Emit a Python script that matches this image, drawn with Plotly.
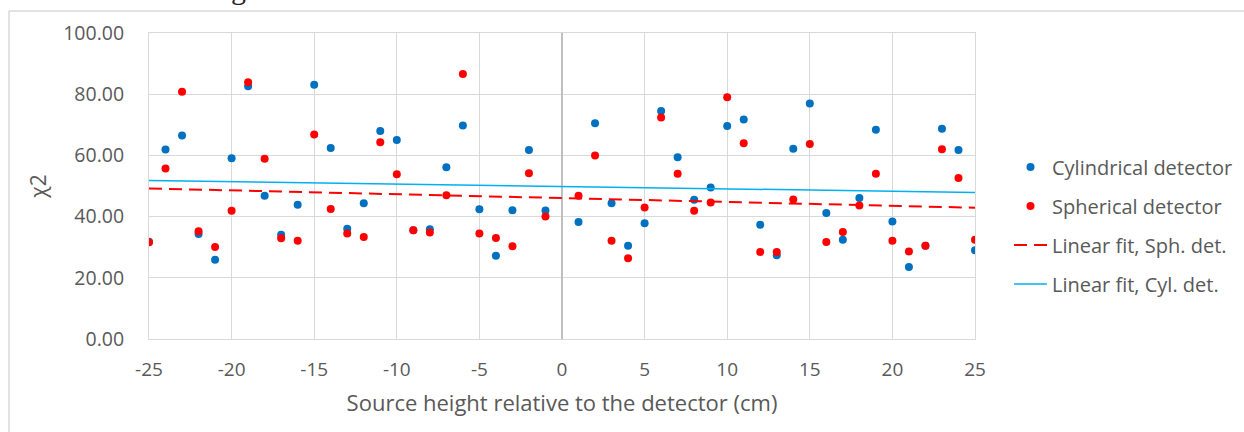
import plotly.graph_objects as go

heights = list(range(-25, 26))

cylindrical = [31.8, 61.9, 66.5, 34.3, 25.9, 59.1, 82.6, 46.8, 34.1, 43.9,
               83.1, 62.4, 36.0, 44.4, 68.0, 65.0, 35.5, 35.9, 56.1, 69.8,
               42.4, 27.2, 42.1, 61.8, 42.0, 0, 38.2, 70.5, 44.4, 30.5,
               37.8, 74.5, 59.4, 45.5, 49.5, 69.6, 71.7, 37.3, 27.4, 62.2,
               77.0, 41.2, 32.4, 46.1, 68.4, 38.4, 23.5, 30.5, 68.7, 61.8, 29.0]

spherical = [31.6, 55.7, 80.8, 35.2, 30.1, 41.9, 83.9, 58.9, 32.9, 32.1,
             66.8, 42.5, 34.5, 33.3, 64.3, 53.8, 35.5, 34.8, 47.0, 86.6,
             34.5, 33.0, 30.3, 54.2, 40.0, 0, 46.8, 60.0, 32.1, 26.4,
             43.0, 72.4, 54.0, 41.9, 44.6, 79.0, 64.0, 28.4, 28.4, 45.6,
             63.7, 31.7, 35.0, 43.6, 54.0, 32.1, 28.6, 30.5, 62.0, 52.6, 32.4]

# the reference has no point at height 0
pts_x = [h for h in heights if h != 0]
cyl_y = [v for h, v in zip(heights, cylindrical) if h != 0]
sph_y = [v for h, v in zip(heights, spherical) if h != 0]

fit_x = [-25, 25]
fit_sph = [49.2, 42.9]
fit_cyl = [51.8, 47.9]

y_ticks = [0, 20, 40, 60, 80, 100]
y_tick_labels = ["0.00", "20.00", "40.00", "60.00", "80.00", "100.00"]
x_ticks = [-25, -20, -15, -10, -5, 0, 5, 10, 15, 20, 25]
x_tick_labels = ["-25", "-20", "-15", "-10", "-5", "0", "5", "10", "15", "20", "25"]

FONT = "Open Sans"
GREY = "#595959"

fig = go.Figure()
fig.add_trace(go.Scatter(x=pts_x, y=cyl_y, mode="markers", name="Cylindrical detector",
                         marker=dict(color="#0070c0", size=8), legendgroup="a"))
fig.add_trace(go.Scatter(x=pts_x, y=sph_y, mode="markers", name="Spherical detector",
                         marker=dict(color="#ff0000", size=8), legendgroup="b"))
fig.add_trace(go.Scatter(x=fit_x, y=fit_sph, mode="lines", name="Linear fit, Sph. det.",
                         line=dict(color="#ff0000", width=2, dash="13px,7px"), legendgroup="c"))
fig.add_trace(go.Scatter(x=fit_x, y=fit_cyl, mode="lines", name="Linear fit, Cyl. det.",
                         line=dict(color="#00b0f0", width=1.5), legendgroup="d"))

border_left = (9 - 149) / 826
border_top = (339 - 11) / 306

fig.update_layout(
    width=1244, height=432,
    margin=dict(l=149, r=269, t=33, b=93, autoexpand=False),
    paper_bgcolor="white", plot_bgcolor="white",
    font=dict(family=FONT, color=GREY, size=19),
    showlegend=True,
    legend=dict(x=(1009 - 149) / 826, y=(339 - 225.5) / 306, xanchor="left", yanchor="middle",
                font=dict(family=FONT, size=20, color=GREY),
                traceorder="grouped", tracegroupgap=10, itemwidth=33,
                bgcolor="rgba(0,0,0,0)"),
    xaxis=dict(range=[-25, 25], tickvals=x_ticks, ticktext=x_tick_labels,
               showgrid=True, gridcolor="#d9d9d9",
               gridwidth=1, zeroline=True, zerolinecolor="#bfbfbf", zerolinewidth=1.5,
               showline=True, linecolor="#d9d9d9", mirror=True, ticks="",
               ticklabelstandoff=13,
               tickfont=dict(family=FONT, size=19, color=GREY),
               title=dict(text="Source height relative to the detector (cm)",
                          font=dict(family=FONT, size=22, color=GREY), standoff=14)),
    yaxis=dict(range=[0, 100], tickvals=y_ticks, ticktext=y_tick_labels, showgrid=True,
               gridcolor="#d9d9d9", gridwidth=1, zeroline=False,
               showline=True, linecolor="#d9d9d9", mirror=True, ticks="",
               ticklabelstandoff=20,
               tickfont=dict(family=FONT, size=19.5, color=GREY),
               title=dict(text="χ2", font=dict(family=FONT, size=21, color=GREY), standoff=10)),
    shapes=[
        dict(type="line", xref="paper", yref="paper",
             x0=border_left, x1=1.7, y0=border_top, y1=border_top,
             line=dict(color="#d9d9d9", width=1.5), layer="below"),
        dict(type="line", xref="paper", yref="paper",
             x0=border_left, x1=border_left, y0=-0.6, y1=border_top,
             line=dict(color="#d9d9d9", width=1.5), layer="below"),
    ],
    annotations=[dict(text="g", xref="paper", yref="paper",
                      x=(238 - 149) / 826, y=(339 + 12) / 306, xanchor="center", yanchor="middle",
                      showarrow=False, font=dict(family="Liberation Serif", size=30, color="#222222"))],
)

fig.write_html("out.html")
